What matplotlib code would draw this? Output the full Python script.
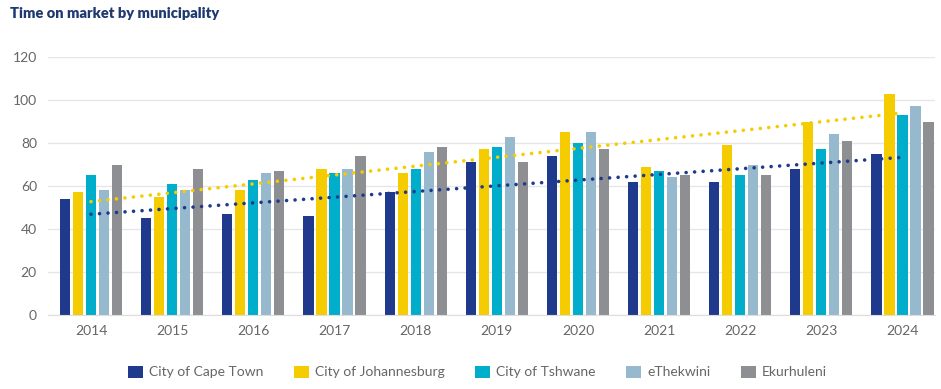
import numpy as np
import matplotlib
matplotlib.use("Agg")
import matplotlib.pyplot as plt

years = ["2014", "2015", "2016", "2017", "2018", "2019", "2020", "2021", "2022", "2023", "2024"]
cape_town = [54, 45, 47, 46, 57, 71, 74, 62, 62, 68, 75]
johannesburg = [57, 55, 58, 68, 66, 77, 85, 69, 79, 90, 103]
tshwane = [65, 61, 63, 66, 68, 78, 80, 67, 65, 77, 93]
ethekwini = [58, 58, 66, 68, 76, 83, 85, 64, 70, 84, 97]
ekurhuleni = [70, 68, 67, 74, 78, 71, 77, 65, 65, 81, 90]

series_names = ["City of Cape Town", "City of Johannesburg", "City of Tshwane", "eThekwini", "Ekurhuleni"]
series = [cape_town, johannesburg, tshwane, ethekwini, ekurhuleni]
colors = ["#1F3A8C", "#F5CC00", "#00AECB", "#97B9CD", "#8E8F93"]

plt.rcParams['font.family'] = ['Lato', 'DejaVu Sans']

fig = plt.figure(figsize=(9.41, 3.89), dpi=100)
ax = fig.add_axes([48/941, 1-315/389, (935-48)/941, (315-57)/389])

x = np.arange(len(years))
pitch = 0.16
width = 0.125
for i, (vals, c, name) in enumerate(zip(series, colors, series_names)):
    ax.bar(x + (i-2)*pitch, vals, width=width, color=c, label=name, zorder=2)

# linear trendlines
for vals, c in [(johannesburg, "#F5CC00"), (cape_town, "#1F3A8C")]:
    k, b = np.polyfit(x, vals, 1)
    ax.plot(x, k*x + b, color=c, lw=2.6, linestyle=(0, (0.01, 2.35)),
            dash_capstyle='round', zorder=3)

ax.set_ylim(0, 120)
ax.set_xlim(-0.53, 10.4)
ax.set_yticks(range(0, 121, 20))
ax.set_xticks(x)
ax.set_xticklabels(years)
ax.grid(axis='y', color='#E6E6E6', lw=1, zorder=0)
ax.set_axisbelow(True)
for s in ['top', 'right', 'left']:
    ax.spines[s].set_visible(False)
ax.spines['bottom'].set_color('#DDDDDD')
ax.tick_params(axis='both', length=0, labelsize=10, labelcolor='#666666')
ax.tick_params(axis='y', pad=8)
ax.tick_params(axis='x', pad=7)

fig.text(10/941, 1-13/389, "Time on market by municipality", fontsize=10.5,
         fontweight='heavy', color='#1F3A70', va='center', ha='left')

handles, labels = ax.get_legend_handles_labels()
fig.legend(handles, labels, loc='center', bbox_to_anchor=(477.5/941, 1-372/389),
           ncol=5, frameon=False, fontsize=10, handlelength=1.08, handleheight=1.0,
           handletextpad=0.43, columnspacing=2.2, labelcolor='#666666')

fig.savefig("out.png", dpi=100)
